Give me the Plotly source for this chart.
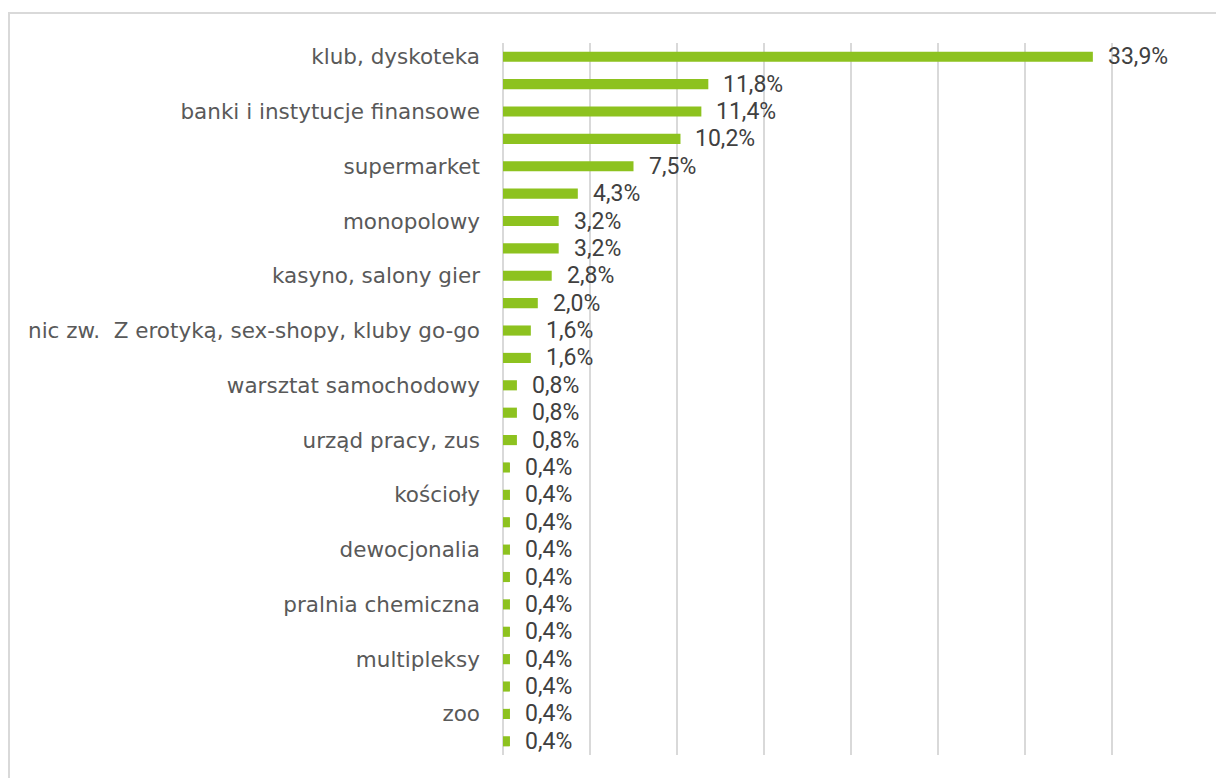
import plotly.graph_objects as go

# Share of answers per venue type (%), top to bottom
values = [33.9, 11.8, 11.4, 10.2, 7.5, 4.3, 3.2, 3.2, 2.8, 2.0, 1.6, 1.6, 0.8,
          0.8, 0.8, 0.4, 0.4, 0.4, 0.4, 0.4, 0.4, 0.4, 0.4, 0.4, 0.4, 0.4]

# Axis labels; only every second row carries a visible label
labels = ["klub, dyskoteka", "",
          "banki i instytucje finansowe", "",
          "supermarket", "",
          "monopolowy", "",
          "kasyno, salony gier", "",
          "nic zw.  Z erotyką, sex-shopy, kluby go-go", "",
          "warsztat samochodowy", "",
          "urząd pracy, zus", "",
          "kościoły", "",
          "dewocjonalia", "",
          "pralnia chemiczna", "",
          "multipleksy", "",
          "zoo", ""]

x_ticks = [0, 5, 10, 15, 20, 25, 30, 35, 40]

positions = list(range(len(values)))
label_font = dict(family="DejaVu Sans", size=21.5, color="#595959")
value_font = dict(family="Roboto", size=23, color="#404040")
bar_color = "#8DC21F"
grid_color = "#D9D9D9"

fig = go.Figure()
fig.add_trace(go.Bar(
    x=values,
    y=positions,
    orientation="h",
    marker=dict(color=bar_color, line=dict(width=0)),
    width=0.37,
    hoverinfo="x+y",
))

for pos, val in zip(positions, values):
    fig.add_annotation(
        x=val, y=pos, xref="x", yref="y",
        text=f"{val:.1f}".replace(".", ",") + "%",
        showarrow=False, xanchor="left", yanchor="middle",
        xshift=13, yshift=0,
        font=value_font,
    )

L, R, T, B = 503, 17, 43, 23
W, H = 1216, 778
pw, ph = W - L - R, H - T - B

# light frame around the chart area
fig.add_shape(
    type="rect", xref="paper", yref="paper",
    x0=(9 - L) / pw, x1=1 + (R + 20) / pw,
    y0=-(B + 20) / ph, y1=1 + (T - 13) / ph,
    line=dict(color=grid_color, width=2), fillcolor="rgba(0,0,0,0)",
    layer="below",
)

fig.update_layout(
    width=W, height=H,
    margin=dict(l=L, r=R, t=T, b=B),
    paper_bgcolor="white", plot_bgcolor="white",
    showlegend=False,
    font=label_font,
    xaxis=dict(
        range=[0, 40], tickvals=x_ticks, showticklabels=False,
        showgrid=True, gridcolor=grid_color, gridwidth=1.5,
        zeroline=True, zerolinecolor=grid_color, zerolinewidth=1.5,
        showline=False, fixedrange=True,
    ),
    yaxis=dict(
        range=[len(values) - 0.5, -0.5],
        tickmode="array", tickvals=positions, ticktext=labels,
        showgrid=False, zeroline=False, showline=False, ticks="",
        ticklabelstandoff=22,
        tickfont=label_font,
        fixedrange=True,
    ),
)

fig.write_html("out.html")
